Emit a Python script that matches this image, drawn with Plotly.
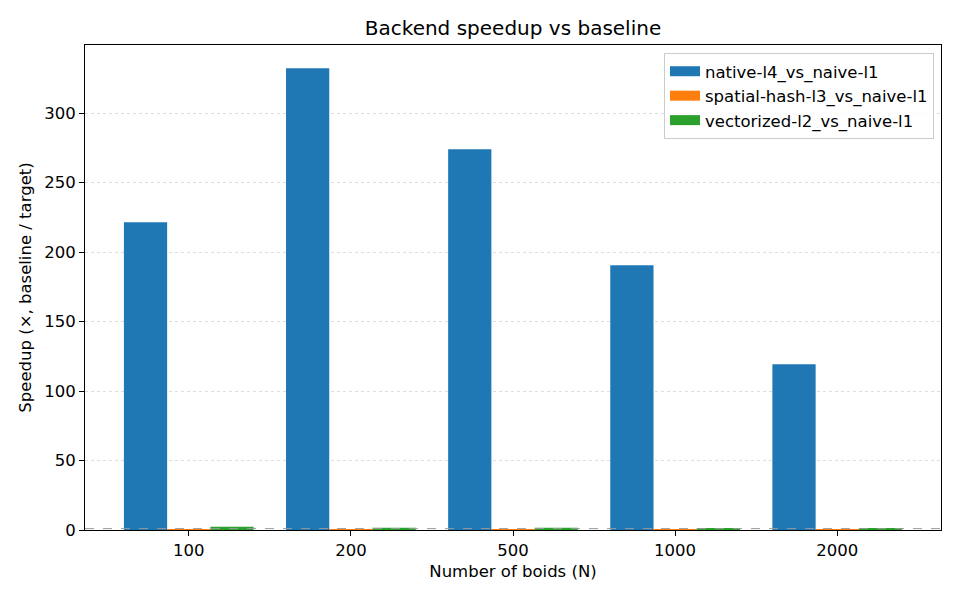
import plotly.graph_objects as go

categories = ["100", "200", "500", "1000", "2000"]
series_names = ["native-l4_vs_naive-l1", "spatial-hash-l3_vs_naive-l1", "vectorized-l2_vs_naive-l1"]
native_l4 = [221.5, 332.3, 274.0, 190.5, 119.3]
spatial_hash_l3 = [0.4, 0.4, 0.4, 0.4, 0.4]
vectorized_l2 = [2.3, 1.7, 1.6, 0.9, 0.8]
colors = ["#1f77b4", "#ff7f0e", "#2ca02c"]
yticks = [0, 50, 100, 150, 200, 250, 300]

x = list(range(len(categories)))
fig = go.Figure()
for name, vals, c in zip(series_names, [native_l4, spatial_hash_l3, vectorized_l2], colors):
    fig.add_trace(go.Bar(x=x, y=vals, name=name, showlegend=False,
                         marker=dict(color=c, line=dict(width=0))))
# legend entries with wide rectangular swatches
for name, c in zip(series_names, colors):
    fig.add_trace(go.Scatter(x=[None], y=[None], mode="lines", name=name,
                             line=dict(color=c, width=12)))

fig.add_shape(type="line", xref="paper", yref="y", x0=0, x1=1, y0=1, y1=1,
              line=dict(color="#999999", width=1, dash="dash"), layer="above")

font = "DejaVu Sans, sans-serif"
fs = 16.5
fig.update_layout(
    width=960, height=600,
    margin=dict(l=85, r=19, t=45, b=70),
    paper_bgcolor="white", plot_bgcolor="white",
    barmode="group", bargap=0.2, bargroupgap=0,
    font=dict(family=font, size=fs, color="black"),
    title=dict(text="Backend speedup vs baseline", x=0.5, xanchor="center",
               xref="paper", y=1 - 28 / 600, yanchor="middle",
               font=dict(size=20, family=font)),
    legend=dict(x=0.9918, xanchor="right", y=0.9835, yanchor="top",
                bgcolor="rgba(255,255,255,0.8)", bordercolor="#cccccc", borderwidth=1,
                font=dict(size=fs, family=font), tracegroupgap=0),
    showlegend=True,
)
fig.update_xaxes(
    range=[-0.64, 4.64], tickmode="array", tickvals=x, ticktext=categories,
    showgrid=False, zeroline=False, showline=True, linecolor="black", linewidth=1,
    mirror=True, ticks="outside", ticklen=5, tickcolor="black",
    title=dict(text="Number of boids (N)", font=dict(size=fs), standoff=6),
)
fig.update_yaxes(
    range=[0, 349], tickmode="array", tickvals=yticks,
    showgrid=True, gridcolor="#dddddd", griddash="dot", gridwidth=1,
    zeroline=False, showline=True, linecolor="black", linewidth=1,
    mirror=True, ticks="outside", ticklen=5, tickcolor="black",
    title=dict(text="Speedup (×, baseline / target)", font=dict(size=fs), standoff=8),
)
fig.write_html("out.html")
